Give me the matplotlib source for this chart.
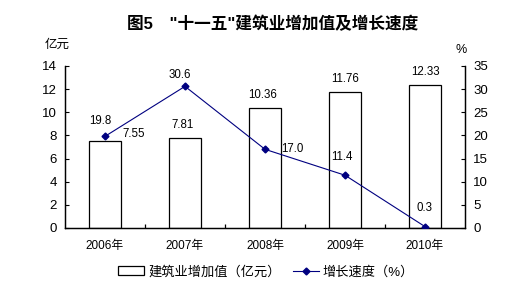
import matplotlib
matplotlib.use("Agg")
import matplotlib.pyplot as plt
from matplotlib.lines import Line2D
from matplotlib.patches import Patch

plt.rcParams['font.family'] = ['Liberation Sans', 'Noto Sans CJK SC', 'DejaVu Sans']

years = ['2006年', '2007年', '2008年', '2009年', '2010年']
value = [7.55, 7.81, 10.36, 11.76, 12.33]
growth = [19.8, 30.6, 17.0, 11.4, 0.3]
value_labels = ['7.55', '7.81', '10.36', '11.76', '12.33']
growth_labels = ['19.8', '30.6', '17.0', '11.4', '0.3']

fig = plt.figure(figsize=(5.32, 2.94), dpi=100)
ax = fig.add_axes([65/532, 1-228/294, 400/532, 162/294])
ax2 = ax.twinx()

x = [i for i in range(len(years))]
ax.bar(x, value, width=0.41, color='white', edgecolor='black', linewidth=0.9, zorder=2)
ax.set_xlim(-0.5, 4.5)
ax.set_ylim(0, 14)
ax.set_yticks(range(0, 15, 2))
ax.set_xticks(x)
ax.set_xticklabels(years, fontsize=8.5)
ax.set_xticks([i + 0.5 for i in x[:-1]], minor=True)
ax.tick_params(axis='x', which='major', length=0, pad=9)
ax.tick_params(axis='x', which='minor', direction='in', length=3, width=0.9)
ax.tick_params(axis='y', direction='in', length=3, labelsize=9.5, pad=6)

ax2.plot(x, growth, color='#000080', linewidth=0.8, marker='D', markersize=3.5, zorder=3)
ax2.set_ylim(0, 35)
ax2.set_yticks(range(0, 36, 5))
ax2.tick_params(axis='y', direction='in', length=3, labelsize=9.5, pad=6)

for a in (ax, ax2):
    a.spines['top'].set_visible(False)
    for s in ('left', 'right', 'bottom'):
        a.spines[s].set_linewidth(0.9)
ax2.set_zorder(ax.get_zorder() + 1)
ax2.patch.set_visible(False)

# bar value labels
voff = [(0.36, 0.57), (-0.03, 1.09), (-0.03, 1.12), (0, 1.12), (0, 1.12)]
for i, (v, lab) in enumerate(zip(value, value_labels)):
    dx, dy = voff[i]
    ax.text(x[i] + dx, v + dy, lab, ha='center', va='center', fontsize=8.3)

# growth labels
goff = [(-0.06, 3.3), (-0.07, 2.46), (0.34, 0.0), (-0.04, 4.0), (0.0, 4.1)]
for i, (g, lab) in enumerate(zip(growth, growth_labels)):
    dx, dy = goff[i]
    ax2.text(x[i] + dx, g + dy, lab, ha='center', va='center', fontsize=8.3)

fig.text(273/532, 1-24/294, '图5　"十一五"建筑业增加值及增长速度', ha='center', va='center',
         fontsize=12, fontweight='bold')
fig.text(57/532, 1-45/294, '亿元', ha='center', va='center', fontsize=9)
fig.text(461/532, 1-50/294, '%', ha='center', va='center', fontsize=9)

handles = [Patch(facecolor='white', edgecolor='black', linewidth=0.9),
           Line2D([], [], color='#000080', marker='D', markersize=3.5, linewidth=0.8)]
fig.legend(handles, ['建筑业增加值（亿元）', '增长速度（%）'], loc='center',
           bbox_to_anchor=(266/532, 1-272/294), ncol=2, frameon=False, fontsize=9.5,
           handlelength=2.0, handleheight=0.6, columnspacing=0.9, handletextpad=0.3)

fig.savefig('out.png', dpi=100)
